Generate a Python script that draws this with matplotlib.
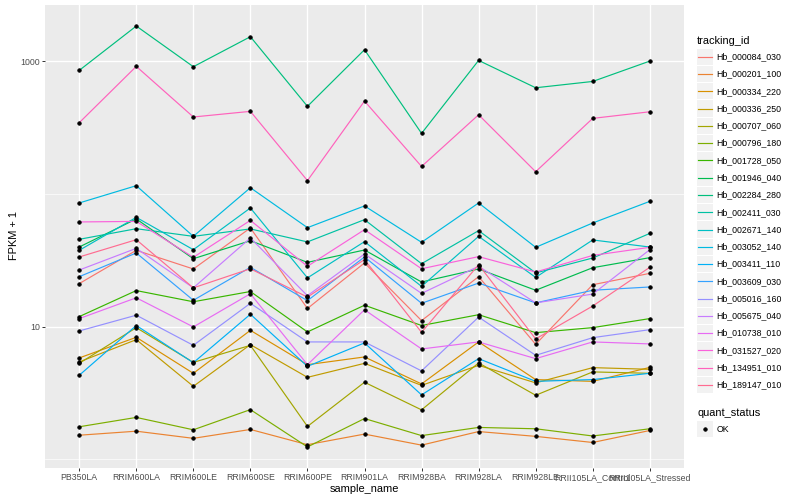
import matplotlib
matplotlib.use("Agg")
import matplotlib.pyplot as plt
from matplotlib.patches import Rectangle
from matplotlib.lines import Line2D
from matplotlib.ticker import FixedLocator, NullFormatter
import numpy as np

plt.rcParams['font.family'] = ['Liberation Sans', 'DejaVu Sans']

samples = ["PB350LA", "RRIM600LA", "RRIM600LE", "RRIM600SE", "RRIM600PE",
           "RRIM901LA", "RRIM928BA", "RRIM928LA", "RRIM928LE",
           "RRII105LA_Control", "RRII105LA_Stressed"]

tracking_ids = ["Hb_000084_030", "Hb_000201_100", "Hb_000334_220", "Hb_000336_250",
                "Hb_000707_060", "Hb_000796_180", "Hb_001728_050", "Hb_001946_040",
                "Hb_002284_280", "Hb_002411_030", "Hb_002671_140", "Hb_003052_140",
                "Hb_003411_110", "Hb_003609_030", "Hb_005016_160", "Hb_005675_040",
                "Hb_010738_010", "Hb_031527_020", "Hb_134951_010", "Hb_189147_010"]

hb_000084_030 = [21.1, 37.6, 27.2, 55.4, 13.7, 30.2, 11.1, 23.8, 7.36, 20.7, 25.2]
hb_000201_100 = [1.52, 1.63, 1.44, 1.68, 1.29, 1.55, 1.28, 1.62, 1.49, 1.34, 1.65]
hb_000334_220 = [5.81, 8.31, 4.45, 9.38, 5.17, 5.91, 3.70, 7.67, 3.99, 3.87, 4.93]
hb_000336_250 = [5.42, 7.98, 3.55, 7.32, 4.15, 5.29, 3.61, 5.11, 3.77, 4.91, 4.77]
hb_000707_060 = [5.29, 9.83, 5.38, 7.23, 1.77, 3.81, 2.36, 5.33, 3.04, 4.56, 4.45]
hb_000796_180 = [1.76, 2.07, 1.67, 2.37, 1.24, 2.03, 1.51, 1.74, 1.70, 1.50, 1.70]
hb_001728_050 = [11.9, 18.7, 15.4, 18.4, 9.12, 14.5, 10.2, 12.3, 9.01, 9.83, 11.5]
hb_001946_040 = [39.8, 64.8, 32.5, 44.4, 30.5, 37.8, 21.7, 27.2, 18.8, 27.8, 33.1]
hb_002284_280 = [853, 1841, 909, 1530, 457, 1221, 286, 1014, 631, 704, 1002]
hb_002411_030 = [45.5, 54.7, 47.9, 54.5, 43.5, 64.0, 29.8, 52.9, 25.4, 32.9, 50.4]
hb_002671_140 = [37.6, 66.6, 38.0, 78.4, 23.3, 43.7, 20.1, 47.9, 23.5, 45.0, 39.8]
hb_003052_140 = [85.5, 115.4, 47.9, 111.4, 55.7, 81.2, 43.2, 85.5, 39.6, 60.4, 87.9]
hb_003411_110 = [4.30, 10.2, 5.35, 12.4, 5.02, 7.54, 3.06, 5.74, 3.87, 3.99, 4.45]
hb_003609_030 = [23.8, 35.9, 15.8, 28.0, 15.7, 33.5, 15.0, 21.3, 15.1, 18.8, 19.9]
hb_005016_160 = [9.28, 12.2, 7.23, 15.0, 7.67, 7.67, 4.64, 11.8, 6.08, 8.26, 9.49]
hb_005675_040 = [26.7, 38.9, 19.6, 46.6, 17.1, 35.3, 17.8, 28.5, 15.1, 17.6, 38.0]
hb_010738_010 = [11.5, 16.5, 9.95, 17.7, 5.17, 13.4, 6.79, 7.67, 5.74, 7.67, 7.41]
hb_031527_020 = [61.5, 62.1, 33.3, 63.2, 28.5, 53.8, 27.3, 33.7, 25.8, 34.4, 39.6]
hb_134951_010 = [344, 914, 380, 419, 126, 501, 161, 395, 147, 371, 416]
hb_189147_010 = [33.5, 45.2, 19.6, 27.3, 16.7, 32.0, 9.06, 29.3, 8.08, 14.3, 28.0]

series = [hb_000084_030, hb_000201_100, hb_000334_220, hb_000336_250, hb_000707_060,
          hb_000796_180, hb_001728_050, hb_001946_040, hb_002284_280, hb_002411_030,
          hb_002671_140, hb_003052_140, hb_003411_110, hb_003609_030, hb_005016_160,
          hb_005675_040, hb_010738_010, hb_031527_020, hb_134951_010, hb_189147_010]

quant_status = ["OK"]

colors = ["#F8766D", "#EA8331", "#D89000", "#C09B00", "#A3A500", "#7CAE00", "#39B600",
          "#00BB4E", "#00BF7D", "#00C1A3", "#00BFC4", "#00BAE0", "#00B0F6", "#35A2FF",
          "#9590FF", "#C77CFF", "#E76BF3", "#FA62DB", "#FF62BC", "#FF6C91"]

W, H = 800, 500
fig = plt.figure(figsize=(8, 5), dpi=100)
fig.patch.set_facecolor("white")

def fx(x):
    return x / W

def fy(y):
    return 1 - y / H

pl, pr, pt, pb = 45, 684, 5, 468
ax = fig.add_axes([fx(pl), fy(pb), (pr - pl) / W, (pb - pt) / H])
ax.set_facecolor("#EBEBEB")
for s in ax.spines.values():
    s.set_visible(False)

MS, MEW = 2.5, 0.6
x = np.arange(len(samples))
for vals, c in zip(series, colors):
    ax.plot(x, vals, color=c, lw=0.85, zorder=3, solid_capstyle="butt")
for vals in series:
    ax.plot(x, vals, ls="none", marker="o", ms=MS, mew=MEW, color="black", zorder=4)

ax.set_yscale("log")
allv = np.concatenate([np.asarray(v, float) for v in series])
lo, hi = np.log10(allv.min()), np.log10(allv.max())
pad = (hi - lo) * 0.05
ax.set_ylim(10 ** (lo - pad), 10 ** (hi + pad))
ax.set_xlim(-0.6, len(samples) - 1 + 0.6)

ax.yaxis.set_major_locator(FixedLocator([10, 1000]))
ax.set_yticklabels(["10", "1000"])
ax.yaxis.set_minor_locator(FixedLocator([1, 100, 10000]))
ax.yaxis.set_minor_formatter(NullFormatter())
ax.set_xticks(x)
ax.set_xticklabels(samples)

ax.tick_params(axis="both", which="major", length=2.2, width=0.7, color="#333333",
               labelsize=6.3, labelcolor="#4D4D4D", pad=1.5)
ax.tick_params(axis="y", which="minor", length=0)
ax.grid(True, which="major", color="white", lw=1.0, zorder=0)
ax.grid(True, which="minor", axis="y", color="white", lw=0.5, zorder=0)
ax.set_axisbelow(True)

fig.text(fx(364), fy(489), "sample_name", ha="center", va="center", fontsize=7.9, color="black")
fig.text(fx(14), fy(236), "FPKM + 1", ha="center", va="center", rotation=90, fontsize=7.9, color="black")

# legend: tracking_id
fig.text(fx(697), fy(40.5), "tracking_id", ha="left", va="center", fontsize=7.9)
key_w, step = 16.5, 17.28
y0 = 56.7
for i, (tid, c) in enumerate(zip(tracking_ids, colors)):
    yc = y0 + i * step
    fig.patches.append(Rectangle((fx(696.7), fy(yc + 8.2)), key_w / W, 16.4 / H,
                                 transform=fig.transFigure, facecolor="#F2F2F2",
                                 edgecolor="none"))
    fig.lines.append(Line2D([fx(698.2), fx(711.8)], [fy(yc), fy(yc)], color=c, lw=0.85,
                            transform=fig.transFigure))
    fig.text(fx(716.7), fy(yc), tid, ha="left", va="center", fontsize=6.3)

# legend: quant_status
fig.text(fx(697), fy(412.7), "quant_status", ha="left", va="center", fontsize=7.9)
yq = 429
for j, q in enumerate(quant_status):
    yc = yq + j * step
    fig.patches.append(Rectangle((fx(696.7), fy(yc + 8.2)), key_w / W, 16.4 / H,
                                 transform=fig.transFigure, facecolor="#F2F2F2",
                                 edgecolor="none"))
    fig.lines.append(Line2D([fx(705)], [fy(yc)], marker="o", ms=MS, mew=MEW, color="black",
                            ls="none", transform=fig.transFigure))
    fig.text(fx(716.7), fy(yc), q, ha="left", va="center", fontsize=6.3)

fig.savefig("out.png", dpi=100)
